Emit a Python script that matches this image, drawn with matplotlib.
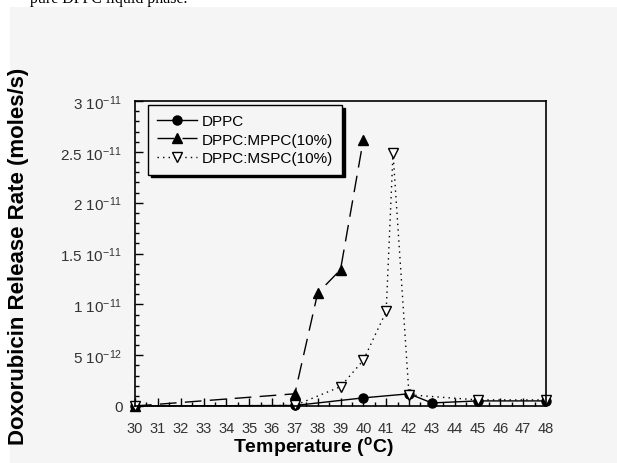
import matplotlib
matplotlib.use("Agg")
import matplotlib.pyplot as plt
from matplotlib.patches import Rectangle
from matplotlib.ticker import FixedLocator, MultipleLocator

plt.rcParams['font.family'] = ['Liberation Sans', 'DejaVu Sans']
plt.rcParams['mathtext.fontset'] = 'custom'
plt.rcParams['mathtext.rm'] = 'Liberation Sans'
plt.rcParams['mathtext.it'] = 'Liberation Sans'
plt.rcParams['mathtext.bf'] = 'Liberation Sans:bold'
plt.rcParams['mathtext.default'] = 'regular'

# data
dppc_t = [30, 37, 40, 42, 43, 45, 48]
dppc_v = [0.0, 0.05e-12, 0.8e-12, 1.2e-12, 0.3e-12, 0.5e-12, 0.5e-12]

mppc_t = [30, 37, 38, 39, 40]
mppc_v = [0.0, 1.2e-12, 1.11e-11, 1.34e-11, 2.62e-11]

mspc_t = [30, 37, 39, 40, 41, 41.3, 42, 45, 48]
mspc_v = [0.0, 0.05e-12, 1.9e-12, 4.5e-12, 9.3e-12, 2.49e-11, 1.1e-12, 0.6e-12, 0.6e-12]

xticks = list(range(30, 49))
yticks = [0, 5e-12, 1e-11, 1.5e-11, 2e-11, 2.5e-11, 3e-11]
ytick_labels = ['0', '5 10$^{-12}$', '1 10$^{-11}$', '1.5 10$^{-11}$',
                '2 10$^{-11}$', '2.5 10$^{-11}$', '3 10$^{-11}$']

W, H = 617, 464
fig = plt.figure(figsize=(W / 100, H / 100), dpi=100)
fig.patch.set_facecolor('white')
bg = '#f5f5f5'
fig.patches.append(Rectangle((10 / W, 0), 1, 1 - 8 / H, transform=fig.transFigure,
                             facecolor=bg, edgecolor='none', zorder=-10))
fig.text(30 / W, 1 - 3 / H, 'pure DPPC liquid phase.', family='Liberation Serif',
         fontsize=11.5, ha='left', va='baseline', color='black')

L, R, T, B = 135, 546, 102, 407
ax = fig.add_axes([L / W, 1 - B / H, (R - L) / W, (B - T) / H])
ax.set_facecolor(bg)

ax.plot(dppc_t, dppc_v, '-', color='black', lw=1.0, marker='o', ms=6.5,
        mfc='black', mec='black', label='DPPC', clip_on=False)
ax.plot(mppc_t, mppc_v, color='black', lw=1.0, dashes=(12, 6), marker='^', ms=7,
        mfc='black', mec='black', label='DPPC:MPPC(10%)', clip_on=False)
ax.plot(mspc_t, mspc_v, color='black', lw=1.0, dashes=(1, 3), marker='v', ms=7,
        mfc='white', mec='black', mew=1.0, label='DPPC:MSPC(10%)', clip_on=False)

ax.set_xlim(30, 48)
ax.set_ylim(0, 3e-11)
ax.xaxis.set_major_locator(FixedLocator(xticks))
ax.xaxis.set_minor_locator(MultipleLocator(0.5))
ax.set_xticklabels([str(t) for t in xticks])
ax.yaxis.set_major_locator(FixedLocator(yticks))
ax.yaxis.set_minor_locator(MultipleLocator(1e-12))
ax.set_yticklabels(ytick_labels)
ax.tick_params(which='major', direction='in', length=6, width=1, color='black',
               labelcolor='#333333', top=False, right=False)
ax.tick_params(which='minor', direction='in', length=3, width=1, color='black',
               top=False, right=False)
ax.tick_params(axis='y', which='major', pad=9, labelsize=11)
ax.tick_params(axis='x', which='major', pad=11, labelsize=10.5)
ax.yaxis.get_offset_text().set_visible(False)
for s in ax.spines.values():
    s.set_linewidth(1.2)
    s.set_color('black')

ax.set_xlabel('Temperature ($^{o}$C)', fontsize=14, fontweight='bold')
ax.xaxis.label.set_va('center')
ax.xaxis.set_label_coords((313 - L) / (R - L), -(447 - B) / (B - T))
ax.set_ylabel('Doxorubicin Release Rate (moles/s)', fontsize=16, fontweight='bold')
ax.yaxis.label.set_va('center')
ax.yaxis.set_label_coords(-(L - 19) / (R - L), 0.5 - 1.5 / (B - T))

leg = ax.legend(loc='upper left', bbox_to_anchor=((148 - L) / (R - L), 1 - (106 - T) / (B - T)),
                borderaxespad=0, frameon=True, fancybox=False,
                shadow={'color': 'black', 'alpha': 1.0},
                fontsize=11, handlelength=2.6, handletextpad=0.3,
                labelspacing=0.3, borderpad=0.6)
leg.get_frame().set_edgecolor('black')
leg.get_frame().set_linewidth(1.0)
leg.get_frame().set_facecolor(bg)
leg.get_frame().set_alpha(1.0)

fig.savefig('out.png', dpi=100, facecolor=fig.get_facecolor())
